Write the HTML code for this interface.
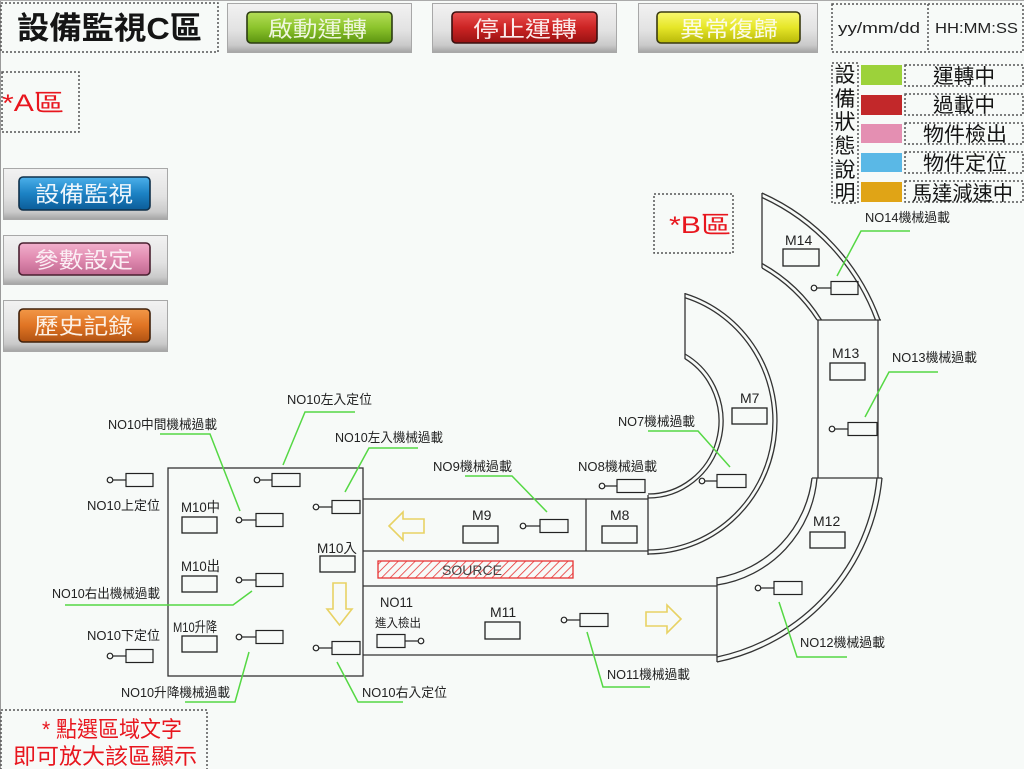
<!DOCTYPE html>
<html><head><meta charset="utf-8"><style>
html,body{margin:0;padding:0;background:#f7faf8;}
svg{display:block;}
text{font-family:"Liberation Sans","Noto Sans CJK TC",sans-serif;}
</style></head><body>
<svg width="1024" height="769" viewBox="0 0 1024 769" xmlns="http://www.w3.org/2000/svg">
<defs>
<linearGradient id="frame" x1="0" y1="0" x2="0" y2="1">
<stop offset="0" stop-color="#f2f2f2"/><stop offset="0.55" stop-color="#e2e2e2"/><stop offset="0.85" stop-color="#cacaca"/><stop offset="1" stop-color="#a4a4a4"/></linearGradient>
<linearGradient id="gG" x1="0" y1="0" x2="0" y2="1"><stop offset="0" stop-color="#b4de58"/><stop offset="0.5" stop-color="#8cc42c"/><stop offset="1" stop-color="#5c9410"/></linearGradient>
<linearGradient id="gR" x1="0" y1="0" x2="0" y2="1"><stop offset="0" stop-color="#ea5050"/><stop offset="0.5" stop-color="#cc2424"/><stop offset="1" stop-color="#981212"/></linearGradient>
<linearGradient id="gY" x1="0" y1="0" x2="0" y2="1"><stop offset="0" stop-color="#f8f870"/><stop offset="0.5" stop-color="#e6e628"/><stop offset="1" stop-color="#b8b808"/></linearGradient>
<linearGradient id="gB" x1="0" y1="0" x2="0" y2="1"><stop offset="0" stop-color="#4cb0ea"/><stop offset="0.5" stop-color="#1c82c4"/><stop offset="1" stop-color="#0c5c98"/></linearGradient>
<linearGradient id="gP" x1="0" y1="0" x2="0" y2="1"><stop offset="0" stop-color="#f2b0cc"/><stop offset="0.5" stop-color="#e08ab0"/><stop offset="1" stop-color="#c06890"/></linearGradient>
<linearGradient id="gO" x1="0" y1="0" x2="0" y2="1"><stop offset="0" stop-color="#f29848"/><stop offset="0.5" stop-color="#e07424"/><stop offset="1" stop-color="#b05212"/></linearGradient>
<pattern id="hatch" patternUnits="userSpaceOnUse" width="6" height="6" patternTransform="rotate(45)">
<line x1="0" y1="0" x2="0" y2="6" stroke="#e83434" stroke-width="1.6"/></pattern>
</defs>

<rect x="0" y="0" width="1024" height="769" fill="#f7faf8"/>
<line x1="0.5" y1="0" x2="0.5" y2="769" stroke="#9a9a9a" stroke-width="1"/>
<line x1="0" y1="0.5" x2="1024" y2="0.5" stroke="#aaaaaa" stroke-width="1"/>

<g fill="none" stroke="#555" stroke-width="1.5" stroke-dasharray="2,2">
<rect x="1" y="3" width="217" height="49"/>
<rect x="2" y="72" width="77" height="60"/>
<rect x="654" y="194" width="79" height="59"/>
<rect x="1" y="710" width="206" height="60"/>
<rect x="832" y="4" width="191" height="48"/>
<line x1="928" y1="4" x2="928" y2="52"/>
<rect x="832" y="63" width="26" height="140"/>
<rect x="905" y="65" width="118" height="21"/>
<rect x="905" y="94" width="118" height="21"/>
<rect x="905" y="123" width="118" height="21"/>
<rect x="905" y="152" width="118" height="21"/>
<rect x="905" y="181" width="118" height="21"/>
</g>

<text x="17" y="39" font-size="31" font-weight="bold" fill="#151515" textLength="185" lengthAdjust="spacingAndGlyphs">設備監視C區</text>

<g>
<rect x="227.5" y="3.5" width="184" height="49" fill="url(#frame)" stroke="#a8a8a8"/>
<rect x="247" y="12" width="145" height="31" rx="4" fill="url(#gG)" stroke="#2c3c12" stroke-width="1.6"/>
<text x="268" y="37" font-size="22" fill="#eef6dc" textLength="99" lengthAdjust="spacingAndGlyphs">啟動運轉</text>
<rect x="432.5" y="3.5" width="184" height="49" fill="url(#frame)" stroke="#a8a8a8"/>
<rect x="452" y="12" width="145" height="31" rx="4" fill="url(#gR)" stroke="#3a1010" stroke-width="1.6"/>
<text x="473" y="37" font-size="22" fill="#fbeaea" textLength="104" lengthAdjust="spacingAndGlyphs">停止運轉</text>
<rect x="638.5" y="3.5" width="179" height="49" fill="url(#frame)" stroke="#a8a8a8"/>
<rect x="657" y="12" width="143" height="31" rx="4" fill="url(#gY)" stroke="#3a3a10" stroke-width="1.6"/>
<text x="680" y="37" font-size="22" fill="#fbfbe6" textLength="98" lengthAdjust="spacingAndGlyphs">異常復歸</text>
</g>

<text x="838" y="33" font-size="15" fill="#222" textLength="82" lengthAdjust="spacingAndGlyphs">yy/mm/dd</text>
<text x="935" y="33" font-size="15" fill="#222" textLength="83" lengthAdjust="spacingAndGlyphs">HH:MM:SS</text>

<g font-size="21" fill="#151515" text-anchor="middle">
<text x="845" y="82">設</text><text x="845" y="106">備</text><text x="845" y="129">狀</text>
<text x="845" y="153">態</text><text x="845" y="177">說</text><text x="845" y="200">明</text>
</g>
<rect x="861" y="65" width="41" height="20" fill="#9cd23a"/>
<rect x="861" y="95" width="41" height="20" fill="#c2282a"/>
<rect x="861" y="124" width="41" height="19" fill="#e48fb2"/>
<rect x="861" y="153" width="41" height="19" fill="#5ab8e6"/>
<rect x="861" y="182" width="41" height="20" fill="#e0a416"/>
<g font-size="20" fill="#151515">
<text x="933" y="83" textLength="62" lengthAdjust="spacingAndGlyphs">運轉中</text>
<text x="933" y="112" textLength="62" lengthAdjust="spacingAndGlyphs">過載中</text>
<text x="923" y="141" textLength="84" lengthAdjust="spacingAndGlyphs">物件檢出</text>
<text x="923" y="170" textLength="84" lengthAdjust="spacingAndGlyphs">物件定位</text>
<text x="912" y="200" textLength="101" lengthAdjust="spacingAndGlyphs">馬達減速中</text>
</g>

<text x="2" y="111" font-size="24" fill="#e8161e" textLength="62" lengthAdjust="spacingAndGlyphs">*A區</text>
<text x="669" y="233" font-size="24" fill="#e8161e" textLength="62" lengthAdjust="spacingAndGlyphs">*B區</text>
<text x="42" y="737" font-size="22" fill="#e8161e" textLength="140" lengthAdjust="spacingAndGlyphs">* 點選區域文字</text>
<text x="13" y="764" font-size="22" fill="#e8161e" textLength="184" lengthAdjust="spacingAndGlyphs">即可放大該區顯示</text>

<rect x="3.5" y="168.5" width="164" height="51" fill="url(#frame)" stroke="#a8a8a8"/>
<rect x="19" y="177" width="131" height="33" rx="4" fill="url(#gB)" stroke="#10304a" stroke-width="1.6"/>
<text x="35" y="202" font-size="22" fill="#eef6fc" textLength="98" lengthAdjust="spacingAndGlyphs">設備監視</text>
<rect x="3.5" y="235.5" width="164" height="49" fill="url(#frame)" stroke="#a8a8a8"/>
<rect x="19" y="243" width="131" height="32" rx="4" fill="url(#gP)" stroke="#4a2030" stroke-width="1.6"/>
<text x="34" y="268" font-size="22" fill="#fbeef4" textLength="99" lengthAdjust="spacingAndGlyphs">參數設定</text>
<rect x="3.5" y="300.5" width="164" height="51" fill="url(#frame)" stroke="#a8a8a8"/>
<rect x="19" y="309" width="131" height="33" rx="4" fill="url(#gO)" stroke="#40200a" stroke-width="1.6"/>
<text x="34" y="334" font-size="22" fill="#fcf0e4" textLength="99" lengthAdjust="spacingAndGlyphs">歷史記錄</text>

<g fill="none" stroke="#333" stroke-width="1.3">
<rect x="168" y="468" width="195" height="208"/>
<line x1="363" y1="499" x2="648" y2="499"/>
<line x1="363" y1="551" x2="648" y2="551"/>
<line x1="586" y1="499" x2="586" y2="551"/>
<line x1="648" y1="495" x2="648" y2="555"/>
<line x1="363" y1="586" x2="717" y2="586"/>
<line x1="363" y1="655" x2="717" y2="655"/>
<line x1="717" y1="577" x2="717" y2="662"/>
<path d="M685 293.6 A129 133 0 0 1 648 554"/>
<path d="M685 297.8 A125 129 0 0 1 648 550"/>
<path d="M685 354 A75 77 0 0 1 648 498"/>
<path d="M685 358.7 A71 73 0 0 1 648 494"/>
<line x1="685" y1="293" x2="685" y2="359"/>
<path d="M762 193 A222 222 0 0 1 880 320"/>
<path d="M762 197.5 A218 218 0 0 1 875.5 320"/>
<path d="M762 268 A160 160 0 0 1 817 320"/>
<path d="M762 263.5 A164 164 0 0 1 821.5 320"/>
<line x1="762" y1="193" x2="762" y2="268"/>
<line x1="817" y1="320" x2="881" y2="320"/>
<line x1="818" y1="320" x2="818" y2="478"/>
<line x1="878" y1="320" x2="878" y2="478"/>
<line x1="812" y1="478" x2="882" y2="478"/>
<path d="M882 478 A208 208 0 0 1 717 662"/>
<path d="M877 478 A203 203 0 0 1 717 657"/>
<path d="M812 478 A115 115 0 0 1 717 578"/>
<path d="M817 478 A118 118 0 0 1 717 585"/>
</g>

<rect x="378" y="561" width="195" height="17" fill="url(#hatch)" stroke="#e83434" stroke-width="1.3"/>
<text x="472" y="575" font-size="14" fill="#444" text-anchor="middle">SOURCE</text>

<g fill="none" stroke="#e8d264" stroke-width="1.6" stroke-linejoin="miter">
<path d="M389 526 L403 512 L403 519 L424 519 L424 533 L403 533 L403 540 Z"/>
<path d="M339.5 625 L327 609 L333 609 L333 583 L346 583 L346 609 L352 609 Z"/>
<path d="M681 619 L667 605 L667 612 L646 612 L646 626 L667 626 L667 633 Z"/>
</g>

<g fill="none" stroke="#222" stroke-width="1.3">
<rect x="182" y="517" width="35" height="16"/>
<rect x="182" y="576" width="35" height="16"/>
<rect x="182" y="636" width="35" height="16"/>
<rect x="320" y="556" width="35" height="16"/>
<rect x="463" y="526" width="35" height="17"/>
<rect x="602" y="526" width="35" height="17"/>
<rect x="485" y="622" width="35" height="17"/>
<rect x="732" y="408" width="35" height="16"/>
<rect x="783" y="249" width="36" height="17"/>
<rect x="830" y="363" width="35" height="17"/>
<rect x="810" y="532" width="35" height="16"/>
</g>

<g fill="none" stroke="#222" stroke-width="1.2">
<circle cx="110" cy="480" r="2.8"/><line x1="112.8" y1="480" x2="126" y2="480"/><rect x="126" y="473.5" width="27" height="13"/>
<circle cx="257" cy="480" r="2.8"/><line x1="259.8" y1="480" x2="272" y2="480"/><rect x="272" y="473.5" width="28" height="13"/>
<circle cx="316" cy="507" r="2.8"/><line x1="318.8" y1="507" x2="332" y2="507"/><rect x="332" y="500.5" width="28" height="13"/>
<circle cx="239" cy="520" r="2.8"/><line x1="241.8" y1="520" x2="256" y2="520"/><rect x="256" y="513.5" width="27" height="13"/>
<circle cx="239" cy="580" r="2.8"/><line x1="241.8" y1="580" x2="256" y2="580"/><rect x="256" y="573.5" width="27" height="13"/>
<circle cx="239" cy="637" r="2.8"/><line x1="241.8" y1="637" x2="256" y2="637"/><rect x="256" y="630.5" width="27" height="13"/>
<circle cx="316" cy="648" r="2.8"/><line x1="318.8" y1="648" x2="332" y2="648"/><rect x="332" y="641.5" width="28" height="13"/>
<circle cx="110" cy="656" r="2.8"/><line x1="112.8" y1="656" x2="126" y2="656"/><rect x="126" y="649.5" width="27" height="13"/>
<circle cx="602" cy="486" r="2.8"/><line x1="604.8" y1="486" x2="617" y2="486"/><rect x="617" y="479.5" width="28" height="13"/>
<circle cx="523" cy="526" r="2.8"/><line x1="525.8" y1="526" x2="540" y2="526"/><rect x="540" y="519.5" width="28" height="13"/>
<rect x="377" y="634.5" width="28" height="13"/><line x1="405" y1="641" x2="418.2" y2="641"/><circle cx="421" cy="641" r="2.8"/>
<circle cx="564" cy="620" r="2.8"/><line x1="566.8" y1="620" x2="580" y2="620"/><rect x="580" y="613.5" width="28" height="13"/>
<circle cx="702" cy="481" r="2.8"/><line x1="704.8" y1="481" x2="717" y2="481"/><rect x="717" y="474.5" width="29" height="13"/>
<circle cx="814" cy="288" r="2.8"/><line x1="816.8" y1="288" x2="831" y2="288"/><rect x="831" y="281.5" width="27" height="13"/>
<circle cx="832" cy="429" r="2.8"/><line x1="834.8" y1="429" x2="848" y2="429"/><rect x="848" y="422.5" width="29" height="13"/>
<circle cx="758" cy="588" r="2.8"/><line x1="760.8" y1="588" x2="774" y2="588"/><rect x="774" y="581.5" width="28" height="13"/>
</g>

<g font-size="14" fill="#222">
<text x="181" y="512" textLength="39" lengthAdjust="spacingAndGlyphs">M10中</text>
<text x="181" y="571" textLength="39" lengthAdjust="spacingAndGlyphs">M10出</text>
<text x="173" y="632" textLength="44" lengthAdjust="spacingAndGlyphs">M10升降</text>
<text x="317" y="553" textLength="40" lengthAdjust="spacingAndGlyphs">M10入</text>
<text x="472" y="520">M9</text>
<text x="610" y="520">M8</text>
<text x="490" y="617">M11</text>
<text x="740" y="403">M7</text>
<text x="785" y="245">M14</text>
<text x="832" y="358">M13</text>
<text x="813" y="526">M12</text>
<text x="380" y="607" textLength="33" lengthAdjust="spacingAndGlyphs">NO11</text>
<text x="375" y="627" font-size="12" textLength="46" lengthAdjust="spacingAndGlyphs">進入檢出</text>
</g>

<g fill="none" stroke="#55d844" stroke-width="1.5">
<polyline points="355,412 305,412 283,465"/>
<polyline points="160,434 210,434 240,511"/>
<polyline points="418,448 369,448 345,492"/>
<polyline points="65,605 233,605 252,591"/>
<polyline points="185,702 235,702 249,652"/>
<polyline points="337,662 358,702 403,702"/>
<polyline points="465,476 512,476 547,512"/>
<polyline points="587,632 603,687 650,687"/>
<polyline points="648,431 698,431 730,467"/>
<polyline points="910,231 861,231 837,276"/>
<polyline points="938,372 889,372 865,417"/>
<polyline points="779,602 797,657 847,657"/>
</g>

<g font-size="13" fill="#222">
<text x="287" y="404" textLength="85" lengthAdjust="spacingAndGlyphs">NO10左入定位</text>
<text x="108" y="429" textLength="109" lengthAdjust="spacingAndGlyphs">NO10中間機械過載</text>
<text x="335" y="442" textLength="108" lengthAdjust="spacingAndGlyphs">NO10左入機械過載</text>
<text x="87" y="510" textLength="73" lengthAdjust="spacingAndGlyphs">NO10上定位</text>
<text x="52" y="598" textLength="108" lengthAdjust="spacingAndGlyphs">NO10右出機械過載</text>
<text x="87" y="640" textLength="73" lengthAdjust="spacingAndGlyphs">NO10下定位</text>
<text x="121" y="697" textLength="109" lengthAdjust="spacingAndGlyphs">NO10升降機械過載</text>
<text x="362" y="697" textLength="85" lengthAdjust="spacingAndGlyphs">NO10右入定位</text>
<text x="433" y="471" textLength="79" lengthAdjust="spacingAndGlyphs">NO9機械過載</text>
<text x="578" y="471" textLength="79" lengthAdjust="spacingAndGlyphs">NO8機械過載</text>
<text x="607" y="679" textLength="83" lengthAdjust="spacingAndGlyphs">NO11機械過載</text>
<text x="618" y="426" textLength="77" lengthAdjust="spacingAndGlyphs">NO7機械過載</text>
<text x="865" y="222" textLength="85" lengthAdjust="spacingAndGlyphs">NO14機械過載</text>
<text x="892" y="362" textLength="85" lengthAdjust="spacingAndGlyphs">NO13機械過載</text>
<text x="800" y="647" textLength="85" lengthAdjust="spacingAndGlyphs">NO12機械過載</text>
</g>
</svg>
</body></html>
